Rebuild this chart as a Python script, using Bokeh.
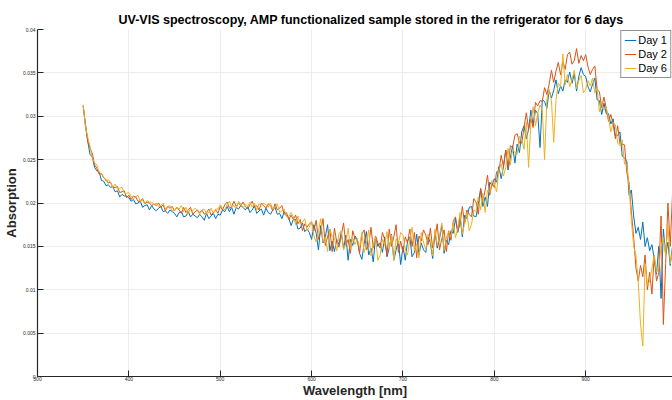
import numpy as np
from bokeh.plotting import figure
from bokeh.models import Range1d, FixedTicker, ColumnDataSource
from bokeh.embed import file_html
from bokeh.resources import INLINE

# sampling grid of the spectra (nm), 2.5 nm steps
wavelength = np.arange(350.0, 997.5, 2.5)

# absorbance values (units of 1e-4)
day1_e4 = [
    312, 291, 271, 256, 253, 241, 237, 236, 226, 225,
    220, 221, 218, 219, 213, 214, 207, 210, 208, 208,
    206, 202, 204, 199, 200, 202, 195, 197, 198, 192,
    197, 193, 191, 194, 196, 190, 191, 188, 192, 190,
    188, 184, 189, 190, 184, 185, 190, 184, 187, 185,
    183, 187, 184, 180, 188, 182, 185, 188, 182, 187,
    186, 192, 190, 196, 190, 195, 187, 195, 193, 197,
    195, 192, 196, 189, 192, 197, 188, 191, 193, 186,
    194, 189, 187, 192, 195, 187, 188, 182, 190, 185,
    183, 174, 181, 181, 170, 171, 177, 167, 170, 166,
    158, 175, 165, 146, 174, 154, 161, 175, 145, 156,
    144, 158, 152, 167, 147, 163, 134, 158, 151, 162,
    158, 142, 135, 153, 167, 140, 148, 132, 161, 150,
    154, 143, 161, 138, 148, 164, 134, 146, 156, 129,
    150, 134, 156, 161, 138, 143, 164, 140, 154, 146,
    143, 161, 154, 136, 167, 148, 159, 174, 142, 157,
    152, 168, 165, 182, 166, 184, 161, 186, 182, 195,
    196, 185, 184, 200, 216, 196, 207, 196, 224, 220,
    228, 224, 242, 228, 242, 261, 238, 252, 266, 246,
    268, 258, 282, 289, 274, 285, 307, 289, 307, 303,
    264, 319, 317, 309, 330, 321, 330, 342, 326, 335,
    329, 342, 339, 351, 338, 349, 329, 346, 356, 348,
    346, 334, 328, 337, 344, 319, 318, 302, 315, 303,
    303, 291, 297, 277, 278, 282, 254, 252, 248, 209,
    215, 185, 165, 172, 158, 178, 150, 160, 145, 152,
    135, 118, 150, 90, 170, 140, 155, 128, 150]

day2_e4 = [
    312, 289, 271, 263, 257, 244, 240, 233, 234, 229,
    227, 223, 224, 218, 218, 219, 212, 213, 214, 206,
    209, 204, 208, 207, 202, 202, 205, 199, 201, 200,
    197, 199, 197, 200, 195, 198, 191, 196, 194, 196,
    191, 195, 192, 188, 195, 189, 192, 195, 187, 190,
    192, 189, 192, 187, 189, 193, 186, 189, 192, 188,
    196, 192, 198, 201, 194, 196, 202, 196, 200, 197,
    201, 196, 193, 198, 202, 195, 197, 192, 200, 197,
    194, 199, 197, 191, 199, 192, 194, 197, 187, 189,
    181, 186, 181, 186, 176, 181, 168, 176, 172, 176,
    178, 168, 180, 158, 167, 182, 151, 161, 170, 144,
    171, 155, 149, 163, 177, 151, 158, 142, 168, 159,
    158, 142, 164, 169, 146, 151, 172, 148, 162, 154,
    148, 166, 158, 140, 170, 150, 161, 175, 143, 156,
    143, 161, 154, 170, 150, 166, 137, 162, 156, 169,
    163, 152, 171, 148, 159, 176, 146, 159, 169, 144,
    168, 157, 179, 184, 167, 176, 196, 176, 192, 187,
    184, 205, 201, 187, 217, 203, 215, 232, 209, 223,
    218, 236, 236, 255, 242, 261, 240, 266, 264, 278,
    280, 269, 269, 287, 304, 285, 297, 287, 316, 312,
    318, 317, 333, 325, 337, 353, 339, 352, 362, 348,
    363, 354, 371, 374, 360, 364, 378, 361, 370, 364,
    371, 357, 348, 354, 358, 331, 328, 310, 322, 309,
    294, 302, 291, 274, 289, 268, 268, 267, 235, 223,
    190, 160, 125, 110, 128, 115, 140, 100, 120, 95,
    140, 110, 120, 185, 60, 130, 200, 150, 210]

day6_e4 = [
    313, 288, 276, 265, 252, 246, 244, 235, 234, 230,
    225, 227, 223, 218, 222, 216, 217, 218, 211, 211,
    212, 207, 205, 207, 209, 202, 203, 199, 203, 201,
    201, 198, 200, 196, 197, 200, 193, 196, 197, 191,
    191, 195, 193, 197, 190, 195, 187, 194, 191, 194,
    191, 187, 192, 193, 188, 189, 194, 188, 193, 193,
    198, 194, 192, 198, 202, 195, 197, 193, 202, 199,
    194, 199, 196, 201, 195, 200, 192, 199, 196, 200,
    198, 195, 200, 193, 195, 199, 189, 191, 193, 184,
    184, 189, 184, 175, 185, 176, 178, 182, 168, 172,
    179, 162, 155, 168, 182, 155, 161, 144, 170, 161,
    160, 145, 165, 168, 146, 153, 171, 147, 160, 152,
    159, 148, 166, 143, 153, 169, 139, 151, 161, 134,
    140, 158, 151, 167, 147, 163, 134, 159, 153, 166,
    163, 147, 140, 158, 172, 145, 153, 137, 166, 155,
    146, 164, 157, 139, 170, 151, 162, 177, 145, 160,
    167, 161, 177, 160, 171, 189, 164, 177, 189, 168,
    175, 192, 190, 207, 192, 211, 189, 215, 212, 226,
    222, 213, 238, 245, 231, 241, 263, 244, 262, 258,
    256, 277, 274, 262, 293, 241, 293, 311, 289, 303,
    313, 307, 250, 319, 331, 318, 270, 319, 338, 334,
    372, 336, 348, 334, 342, 353, 332, 341, 347, 327,
    331, 341, 335, 344, 327, 332, 305, 317, 307, 310,
    298, 282, 293, 290, 269, 266, 273, 245, 244, 219,
    180, 150, 140, 110, 60, 35, 130, 105, 110, 125,
    140, 120, 125, 150, 160, 140, 175, 130, 145]

series_labels = ["Day 1", "Day 2", "Day 6"]
series_colors = ["#0072BD", "#D95319", "#EDB120"]
x_ticks = [300, 400, 500, 600, 700, 800, 900, 1000]
y_ticks = [0, 0.005, 0.01, 0.015, 0.02, 0.025, 0.03, 0.035, 0.04]
y_tick_labels = ["0", "0.005", "0.01", "0.015", "0.02", "0.025", "0.03", "0.035", "0.04"]

FONT = "Liberation Sans"
AX = "#262626"

p = figure(width=672, height=400, x_range=Range1d(300, 995), y_range=Range1d(0, 0.04),
           output_backend="svg", toolbar_location=None,
           title="UV-VIS spectroscopy, AMP functionalized sample stored in the refrigerator for 6 days",
           min_border_left=0, min_border_right=0, min_border_top=29, min_border_bottom=0)
p.outline_line_color = None
p.background_fill_color = "white"
p.border_fill_color = "white"

p.title.align = "left"
p.title.offset = 81
p.title.standoff = 6
p.title.text_font = FONT
p.title.text_font_size = "12.5px"
p.title.text_font_style = "bold"
p.title.text_color = "black"

src = ColumnDataSource(dict(x=wavelength,
                            d1=np.array(day1_e4) * 1e-4,
                            d2=np.array(day2_e4) * 1e-4,
                            d6=np.array(day6_e4) * 1e-4))
for col, lab, c in zip(["d1", "d2", "d6"], series_labels, series_colors):
    p.line("x", col, source=src, line_color=c, line_width=1, legend_label=lab)

p.xaxis.ticker = FixedTicker(ticks=x_ticks)
p.yaxis.ticker = FixedTicker(ticks=y_ticks)
p.yaxis.major_label_overrides = {v: s for v, s in zip(y_ticks, y_tick_labels)}
p.xaxis.major_label_overrides = {v: str(v) for v in x_ticks}

for ax in (p.xaxis[0], p.yaxis[0]):
    ax.axis_line_color = AX
    ax.axis_line_width = 1.2
    ax.major_tick_line_color = AX
    ax.major_tick_in = 6
    ax.major_tick_out = 0
    ax.minor_tick_line_color = None
    ax.major_label_text_font = FONT
    ax.major_label_text_font_size = "5px"
    ax.major_label_text_color = AX
    ax.axis_label_text_font = FONT
    ax.axis_label_text_font_size = "13px"
    ax.axis_label_text_font_style = "bold"
    ax.axis_label_text_color = AX

p.xaxis.major_label_standoff = 0
p.xaxis.axis_label_standoff = -1
p.yaxis.major_label_standoff = 2
p.yaxis.axis_label_standoff = 1

p.xaxis.axis_label = "Wavelength [nm]"
p.yaxis.axis_label = "Absorption"

p.xgrid.grid_line_color = "#ececec"
p.ygrid.grid_line_color = "#ececec"

lg = p.legend[0]
lg.location = "top_right"
lg.margin = 1
lg.padding = 3
lg.spacing = 2
lg.glyph_width = 12
lg.glyph_height = 12
lg.label_height = 12
lg.label_standoff = 2
lg.label_text_font = FONT
lg.label_text_font_size = "11px"
lg.label_text_color = "black"
lg.border_line_color = "#262626"
lg.border_line_width = 1
lg.background_fill_alpha = 1

open("out.html", "w").write(file_html(p, INLINE))
